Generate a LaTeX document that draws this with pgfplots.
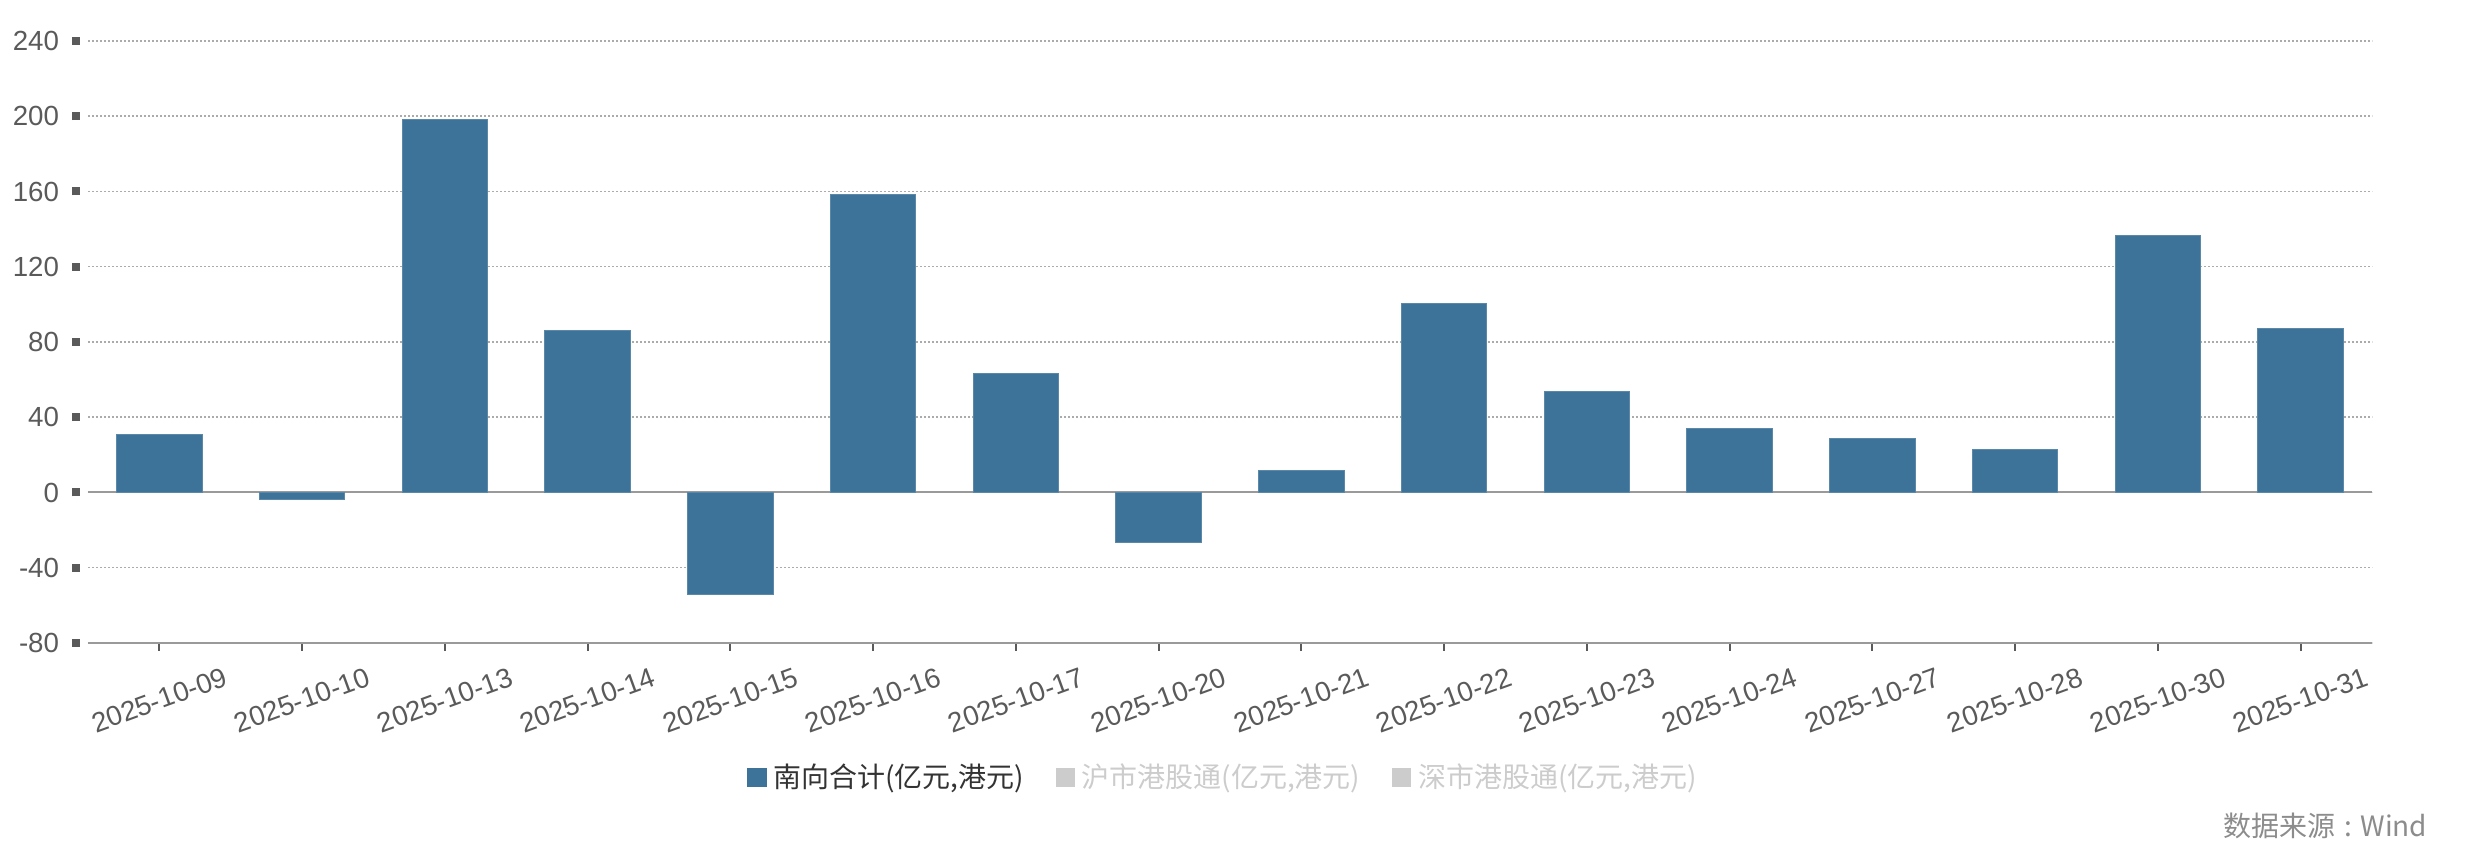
\documentclass[border=0pt]{standalone}
\usepackage{pgfplots}
\pgfplotsset{compat=1.18}
\usepackage{fontspec}
\setmainfont{Liberation Sans}
\newfontfamily\cjk{Noto Sans CJK SC}
\usetikzlibrary{calc}

\definecolor{barblue}{HTML}{3D7399}
\definecolor{ticktext}{HTML}{5A5A5A}
\definecolor{gridgray}{HTML}{ABABAB}
\definecolor{axisgray}{HTML}{9A9A9A}
\definecolor{legoff}{HTML}{CCCCCC}
\definecolor{legon}{HTML}{333333}
\definecolor{srcgray}{HTML}{8C8C8C}

\begin{document}
\begin{tikzpicture}
\begin{axis}[
	scale only axis,
	width=685.2pt,
	height=180.6pt,
	ybar,
	bar width=0.6,
	xmin=-0.5, xmax=15.5,
	ymin=-80, ymax=240,
	ytick={-80,-40,...,240},
	xtick={0,...,15},
	xticklabels={2025-10-09,2025-10-10,2025-10-13,2025-10-14,2025-10-15,2025-10-16,2025-10-17,2025-10-20,
		2025-10-21,2025-10-22,2025-10-23,2025-10-24,2025-10-27,2025-10-28,2025-10-30,2025-10-31},
	axis lines*=left,
	x axis line style={draw=axisgray, line width=0.6pt},
	y axis line style={draw=none},
	ytick style={draw=none},
	xtick style={draw=ticktext, line width=0.6pt},
	tick align=outside,
	major tick length=2.4pt,
	ymajorgrids,
	major grid style={draw=gridgray, line width=0.45pt, dash pattern=on 0.6pt off 0.6pt},
	/pgf/number format/assume math mode=true,
	tick label style={font=\fontsize{8.3}{9}\selectfont, text=ticktext},
	yticklabel={\pgfmathprintnumber{\tick}\hspace{4pt}\textcolor{ticktext}{\rule[1.7pt]{2.4pt}{2.4pt}}},
	yticklabel style={anchor=east, inner sep=0pt, xshift=0.3pt},
	xticklabel style={yshift=-14.7pt, rotate=20, anchor=center, inner sep=0pt},
	legend style={at={(0.498,-0.224)}, anchor=center, draw=none, fill=none,
		legend columns=3, font=\cjk\fontsize{8.4}{9}\selectfont,
		/tikz/every even column/.append style={column sep=7.5pt}},
	legend cell align=left,
]
\draw[axisgray, line width=0.6pt] (axis cs:-0.5,0) -- (axis cs:15.5,0);
\addplot[bar shift=0pt, fill=barblue, draw=barblue!85!white, line width=0.3pt, forget plot] coordinates {
	(0,30.6) (1,-3.8) (2,198.2) (3,86.1) (4,-54.4) (5,158.3) (6,63.1) (7,-26.8)
	(8,11.7) (9,100.3) (10,53.5) (11,34.2) (12,28.9) (13,22.7) (14,136.7) (15,87.3)
};
\addlegendimage{legend image code/.code={\fill[barblue] (0pt,-2.7pt) rectangle (5.4pt,2.7pt);}}
\addlegendentry[text=legon]{南向合计(亿元,港元)}
\addlegendimage{legend image code/.code={\fill[legoff] (0pt,-2.7pt) rectangle (5.4pt,2.7pt);}}
\addlegendentry[text=legoff]{沪市港股通(亿元,港元)}
\addlegendimage{legend image code/.code={\fill[legoff] (0pt,-2.7pt) rectangle (5.4pt,2.7pt);}}
\addlegendentry[text=legoff]{深市港股通(亿元,港元)}
\end{axis}
\node[anchor=east, inner sep=0pt, text=srcgray, font=\cjk\fontsize{8.4}{9}\selectfont]
	at ($(current axis.south east)+(16.8pt,-54.9pt)$) {数据来源\makebox[0.9em][c]{:}Wind};
\path ($(current axis.south west)+(-26.4pt,-62.7pt)$) rectangle ($(current axis.north east)+(34.8pt,12.3pt)$);
\end{tikzpicture}
\end{document}
